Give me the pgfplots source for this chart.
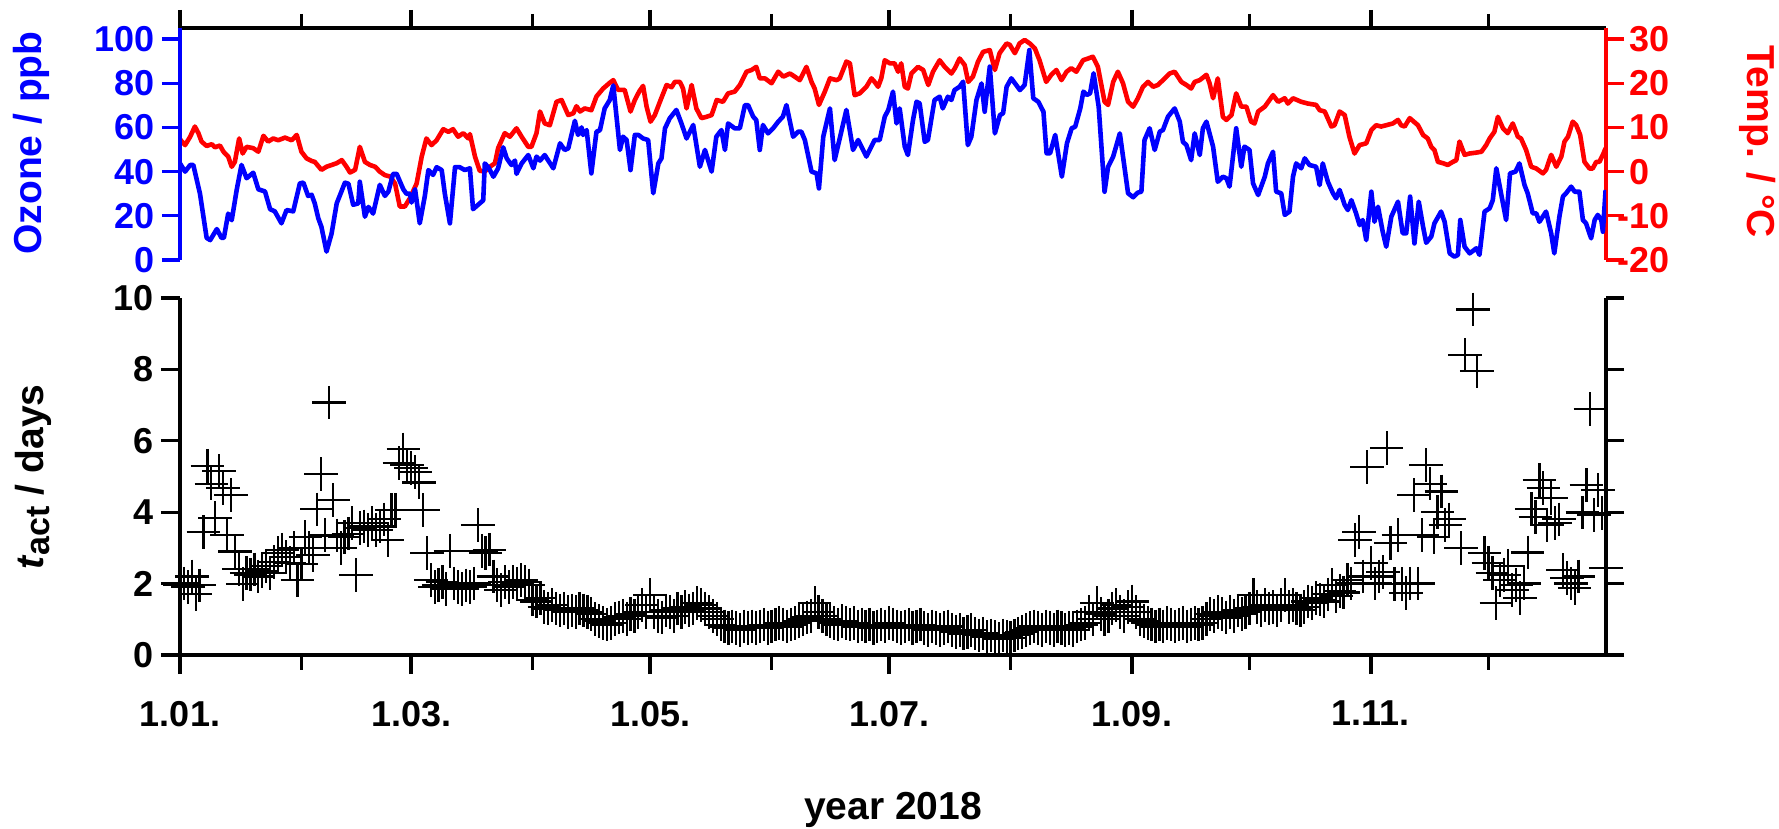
\documentclass[border=0pt]{standalone}
\usepackage{fontspec}
\setmainfont{Liberation Sans}
\usepackage{pgfplots}
\pgfplotsset{compat=1.18}
\definecolor{oblue}{RGB}{0,0,255}
\definecolor{ored}{RGB}{255,0,0}
\newcommand{\tickfont}{\fontsize{18}{21}\selectfont\bfseries}
\newcommand{\labfont}{\fontsize{19.5}{23}\selectfont\bfseries}
\pgfplotsset{
  base/.style={scale only axis, width=713pt, xmin=0, xmax=364, anchor=south west,
    /pgf/number format/assume math mode=true,
    ticklabel style={font=\tickfont},
    label style={font=\labfont},
    major tick length=9pt, minor tick length=7pt,
  },
  noarrow/.style={axis line style={line width=1.65pt,-}, x axis line style={line width=1.65pt,-}, y axis line style={line width=1.65pt,-}},
}
\begin{document}
\begin{tikzpicture}
\useasboundingbox (0,0) rectangle (889.5pt,414.5pt);
% top frame line with month ticks
\begin{axis}[base, at={(90pt,284.5pt)}, height=116pt, ymin=0, ymax=105,
  axis x line=top, axis y line=none, tick align=outside, noarrow,
  xtick={0,59,120,181,243,304}, minor xtick={31,90,151,212,273,334},
  xticklabels={}, tick style={black, line width=1.65pt}]
\end{axis}
% temperature (right axis)
\begin{axis}[base, at={(90pt,284.5pt)}, height=116pt, ymin=-20, ymax=32.5,
  axis x line=none, axis y line=right, tick align=outside, noarrow,
  ytick={-20,-10,0,10,20,30}, yticklabels={\llap{-}20,\llap{-}10,0,10,20,30},
  y axis line style={ored}, tick style={ored, line width=1.65pt},
  yticklabel style={color=ored, xshift=-1pt},
  ylabel={Temp. / °C},
  ylabel style={font=\labfont, color=ored, at={(axis description cs:1.1066,0.509)}, anchor=center, rotate=180}]
\addplot[ored, line width=2.3pt, line join=round] coordinates {
(0,7.3)(1.3,6.0)(2.6,7.9)(3.8,10.2)(4.7,8.7)(5.5,6.8)(6.8,5.8)(8.1,6.2)(8.9,5.5)(10.2,5.9)(11.1,4.5)(12.3,3.4)(13.2,1.1)(14.0,2.2)(15.1,7.5)(16.0,4.1)(17.0,5.6)(18.7,5.3)(20.0,4.5)(21.3,8.1)(22.5,6.8)(23.8,7.5)(25.1,7.1)(26.8,7.7)(28.5,7.1)(29.8,8.3)(31.0,4.5)(32.3,3.0)(33.6,2.4)(34.4,2.2)(36.1,0.4)(37.4,1.1)(38.7,1.5)(40.0,1.9)(41.3,2.6)(42.5,1.1)(43.4,-0.2)(44.7,0.4)(45.9,5.6)(47.2,2.2)(48.5,1.5)(49.8,1.1)(51.0,0)(52.3,-0.8)(53.6,-1.1)(54.9,-2.7)(56.1,-7.9)(57.4,-7.9)(58.7,-6.0)(60.4,-2.7)(61.7,3.4)(62.9,7.5)(64.2,6.0)(65.5,7.1)(67.2,9.6)(68.5,9.0)(69.7,9.6)(71.0,7.9)(72.3,8.7)(73.6,7.5)(74.0,8.5)(75.3,3.4)(76.5,0.2)(77.8,0)(79.1,1.1)(80.4,1.9)(81.2,5.3)(82.9,8.7)(84.2,7.9)(85.9,9.8)(87.2,7.9)(88.9,5.6)(89.7,5.6)(91.0,8.7)(91.9,13.6)(93.1,10.9)(94.4,10.5)(96.1,15.8)(97.4,16.2)(99.1,12.8)(100.4,13.2)(101.2,14.8)(102.1,13.6)(103.3,14.3)(105.0,13.9)(106.3,17.0)(108.0,18.8)(109.7,20.1)(110.6,20.7)(111.8,18.5)(113.5,18.5)(115.0,13.6)(116.1,16.2)(117.2,18.1)(118.2,19.4)(119.1,14.7)(120.1,11.3)(121.2,12.8)(122.5,15.8)(124.2,19.6)(125.5,19.1)(126.3,20.3)(127.6,20.3)(128.4,18.8)(129.3,14.3)(130.6,19.6)(131.8,14.3)(133.1,12.1)(134.4,12.4)(135.7,12.8)(137.0,16.2)(138.6,15.8)(139.9,17.7)(141.6,18.1)(142.9,19.6)(144.6,22.6)(145.9,23.0)(147.1,23.7)(148.0,21.1)(149.3,21.1)(151.0,20.0)(152.7,22.6)(154.0,21.5)(155.7,22.2)(156.9,21.5)(158.2,20.7)(159.9,23.7)(161.2,20.3)(162.0,18.8)(163.1,15.1)(164.6,18.1)(165.9,21.1)(167.6,20.7)(168.4,21.1)(170.1,24.9)(171.0,24.5)(172.2,17.3)(173.5,17.7)(175.2,19.2)(176.5,21.1)(177.3,20.3)(178.2,19.2)(179.0,21.1)(179.9,25.2)(181.2,24.5)(182.4,24.5)(183.3,22.6)(184.1,24.5)(185.0,19.2)(185.8,18.8)(186.7,22.2)(188.4,23.7)(189.7,23.0)(191.0,19.6)(192.2,22.6)(193.9,25.2)(195.2,23.7)(196.9,22.2)(197.8,23.4)(199.0,25.6)(200.3,24.1)(201.2,20.3)(202.4,21.5)(203.7,24.9)(205.0,27.1)(206.7,27.5)(208.0,23.0)(209.2,26.8)(211.0,29.0)(211.8,28.7)(213.1,26.8)(214.3,29.0)(215.6,29.8)(216.9,29.0)(218.2,27.9)(219.4,25.2)(221.1,20.3)(222.4,21.9)(223.7,23.0)(225.0,20.7)(226.3,22.6)(227.5,23.4)(228.8,22.6)(230.5,25.2)(231.8,25.6)(233.0,26.0)(234.3,23.7)(236.0,15.8)(236.9,15.1)(238.2,20.3)(239.4,22.6)(240.7,20.0)(242.0,15.8)(243.3,14.7)(244.5,16.6)(245.8,19.2)(247.1,20.3)(248.4,19.2)(249.6,19.6)(250.9,20.7)(252.6,22.2)(253.9,22.6)(255.6,20.3)(256.9,19.6)(258.1,18.8)(259.0,20.3)(260.3,20.7)(262.0,21.9)(262.8,20.0)(263.7,16.6)(264.9,21.1)(266.2,12.4)(267.1,11.7)(268.4,12.8)(269.6,17.7)(270.9,14.7)(272.2,14.7)(273.4,11.3)(274.3,10.9)(275.2,13.6)(276.9,14.7)(279.0,17.3)(280.3,15.8)(282.0,16.6)(282.8,15.4)(284.1,16.6)(286.2,15.8)(287.9,15.4)(290.0,15.1)(290.9,13.9)(292.2,13.6)(293.9,10.2)(294.7,10.5)(296.0,13.6)(297.3,12.8)(298.5,7.9)(299.8,4.1)(301.1,6.0)(302.8,6.4)(304.1,9.4)(305.3,10.5)(306.6,10.2)(307.9,10.5)(309.6,10.9)(310.9,11.7)(311.7,10.5)(312.6,10.2)(313.9,12.1)(316.0,10.5)(317.3,8.3)(318.5,7.5)(319.4,5.6)(320.2,4.9)(321.1,2.2)(322.4,1.9)(323.6,1.5)(324.9,2.2)(325.8,2.6)(326.6,6.8)(327.9,3.8)(329.2,4.1)(330.9,4.3)(332.2,4.5)(333.4,6.0)(334.3,7.5)(335.5,9.0)(336.4,12.4)(337.7,9.8)(338.9,8.7)(340.2,10.9)(341.5,7.9)(342.3,7.5)(343.6,4.9)(344.9,1.1)(346.2,0.7)(347.9,-0.4)(348.7,0.4)(350.0,3.8)(351.3,1.1)(352.6,3.4)(353.4,6.8)(354.3,7.9)(355.5,11.3)(356.4,10.5)(357.4,8.3)(358.5,2.2)(359.8,0.7)(360.6,0.7)(361.5,2.2)(362.3,2.2)(363.2,3.8)(363.9,5.3)
};
\end{axis}
% ozone (left axis)
\begin{axis}[base, at={(90pt,284.5pt)}, height=116pt, ymin=0, ymax=105,
  axis x line=none, axis y line=left, tick align=outside, noarrow,
  ytick={0,20,40,60,80,100},
  y axis line style={oblue}, tick style={oblue, line width=1.65pt},
  yticklabel style={color=oblue},
  ylabel={Ozone / ppb},
  ylabel style={color=oblue, at={(axis description cs:-0.1045,0.504)}, anchor=center}]
\addplot[oblue, line width=2.3pt, line join=round] coordinates {
(0,43.7)(1.3,40)(2.6,43)(3.4,43)(5.1,30)(6.8,10)(7.7,9)(9.4,14)(10.6,10)(11.2,10)(12.3,21)(13.2,18)(14.5,32)(15.7,43)(17.0,37)(18.7,39.5)(20.0,32)(21.7,31)(23.0,23)(24.2,22)(25.9,16.6)(27.2,22.6)(28.9,22)(30.6,34.7)(31.5,35)(32.7,29)(33.6,29.5)(34.4,25.6)(35.3,18.9)(36.1,15)(37.4,3.8)(38.7,12)(40.0,25.6)(42.1,35)(43.0,34.5)(44.2,25)(45.5,25.6)(45.9,35.4)(47.2,19.6)(48.1,24)(49.3,21)(51.0,34)(52.3,29)(53.2,31)(54.4,39)(55.3,39)(57.0,32)(57.8,30)(58.7,30)(59.1,26)(60.0,32)(61.2,16.6)(62.5,29)(63.4,40.7)(64.6,38.5)(65.5,42)(66.8,40.7)(67.6,30)(68.9,16.6)(70.2,42)(71.4,42)(72.7,40.7)(74.0,41.5)(74.8,23)(76.1,25)(77.4,27)(77.8,43.7)(78.7,42)(80.0,37.7)(81.2,41.5)(82.5,51)(83.4,46)(84.6,43)(85.5,45)(85.9,39)(87.2,43.7)(88.9,47.5)(90.2,41.5)(91.0,46.8)(91.9,45)(93.1,47.5)(94.0,45)(95.3,41.5)(97.0,52.8)(98.2,49.8)(99.1,50.5)(100.8,63)(101.6,56.6)(102.5,60)(102.9,56.6)(103.8,58.8)(105.0,39.2)(106.3,58)(107.2,58.8)(108.4,68.6)(109.7,72.4)(110.6,79)(112.3,49.8)(113.1,55.8)(114.0,54.3)(115.0,40.7)(116.1,56.6)(117.0,56.6)(118.2,55)(119.5,54.3)(120.8,30.2)(122.1,43.7)(122.9,46)(123.8,59.6)(125.0,64.1)(126.7,67.9)(128.0,61.8)(129.3,55)(131.0,61.1)(132.7,42.2)(134.0,49.8)(135.7,40)(136.9,55.8)(138.2,58.8)(139.1,49.8)(139.9,61.8)(141.6,59.6)(142.9,59.6)(144.2,70.1)(145.0,70.1)(146.3,64.9)(147.1,63.3)(148.0,49.8)(148.8,61.1)(150.1,57.3)(151.4,59.6)(152.7,62.6)(153.9,64.9)(154.8,70.1)(156.5,55.8)(157.8,58.1)(158.6,58.1)(159.5,54.3)(161.2,40)(162.5,39.2)(163.1,32.4)(164.2,55.8)(165.9,68.6)(167.1,45.2)(168.4,55)(170.1,67.9)(171.8,49.8)(173.1,54.3)(175.2,46.8)(177.3,54.3)(178.6,54.3)(179.9,64.9)(180.8,67.9)(182.0,76.2)(182.9,61.8)(183.7,68.6)(185.0,51.3)(185.8,47.5)(187.1,63.3)(188.0,71.6)(188.8,70.9)(190.1,53.5)(190.9,54.3)(192.6,72.4)(193.9,73.9)(194.7,68.6)(196.0,73.9)(196.9,72.4)(197.7,76.9)(199.0,78.4)(199.9,80.7)(201.1,52)(202.0,55.8)(203.3,72.4)(204.6,79.9)(205.4,67.1)(206.7,87.5)(208.0,57.3)(209.3,65.6)(210.1,66.4)(211.0,78.4)(212.2,82.2)(214.4,76.9)(215.6,79.2)(216.8,95)(217.8,73.2)(219.1,71.6)(220.4,67.1)(221.2,48.3)(222.1,48.3)(223.4,56.6)(225.1,37.7)(226.4,52.8)(227.6,59.6)(228.5,60.3)(229.8,68.6)(230.6,76.2)(231.5,74.7)(232.3,75.4)(233.2,84.5)(234.5,69.4)(236.0,30.9)(236.9,42.2)(238.2,46.8)(239.9,57.3)(242.0,30.2)(243.3,28.4)(244.5,30.5)(245.4,30.9)(246.2,54.3)(247.5,59.6)(248.8,49.8)(250.1,58.1)(250.9,58.8)(252.2,64.9)(253.9,68.6)(255.2,62.6)(256.0,53.5)(256.9,52)(258.1,45.2)(259.0,57.3)(260.3,47.5)(261.1,59.6)(262.0,62.6)(263.7,51.3)(264.9,35.4)(266.2,37.7)(267.1,37)(267.9,33.2)(269.6,59.6)(270.9,42.2)(271.7,51.3)(273.0,49.8)(273.9,34.7)(275.2,29.4)(276.9,37.7)(277.7,43.7)(279.0,49)(279.8,30.9)(281.1,30.2)(282.0,20.4)(283.2,21.9)(284.1,37.7)(284.9,43.7)(286.2,41.5)(287.1,46)(288.3,43)(290.0,42.2)(290.9,33.9)(291.7,43.7)(293.0,35.4)(294.3,30.2)(295.1,27.9)(296.0,31.7)(297.3,24.9)(298.1,22.6)(299.0,27.1)(300.2,21.1)(301.1,15.8)(301.9,18.1)(302.8,9)(304.1,30.9)(304.9,17.3)(305.8,24.1)(307.0,12.8)(307.9,6)(309.2,19.6)(310.9,26.4)(312.1,12.1)(313.0,12.1)(314.0,28.7)(315.1,7.5)(316.2,26.4)(317.3,15.1)(318.1,7.8)(319.4,10.6)(320.2,16.6)(321.9,21.9)(322.8,17.3)(324.1,3)(325.3,1.5)(326.2,2.3)(326.8,18.1)(327.9,6)(329.2,3)(330.9,5.3)(331.7,2.3)(333.0,21.9)(334.3,23.4)(335.1,27.1)(336.0,41.5)(337.2,30.2)(338.5,18.1)(339.5,39.2)(340.9,40)(341.9,43.7)(343.2,33.9)(344.0,30.2)(345.3,21.1)(346.2,21.1)(347.0,17.3)(348.7,21.9)(350.0,12.1)(350.8,3)(352.1,19.6)(353.0,28.7)(353.8,30.2)(355.1,33.2)(356.0,30.9)(357.2,30.9)(358.1,18.1)(358.9,16.6)(360.2,9.8)(361.1,18.1)(361.9,20.4)(362.8,18.1)(363.2,12.8)(363.9,31.7)
};
\end{axis}
% bottom panel: right spine
\begin{axis}[base, at={(90pt,87pt)}, height=178.5pt, ymin=0, ymax=10,
  axis x line=none, axis y line=right, tick align=outside, noarrow,
  ytick={0,2,4,6,8,10}, yticklabels={}, tick style={black, line width=1.65pt}]
\end{axis}
% bottom panel: t_act
\begin{axis}[base, at={(90pt,87pt)}, height=178.5pt, ymin=0, ymax=10,
  axis x line=bottom, axis y line=left, tick align=outside, clip=false, noarrow,
  major tick length=9.5pt, minor tick length=7.5pt,
  xtick={0,59,120,181,243,304}, minor xtick={31,90,151,212,273,334},
  xticklabels={1.01.,1.03.,1.05.,1.07.,1.09.,1.11.},
  xticklabel style={yshift=-10pt},
  ytick={0,2,4,6,8,10}, tick style={black, line width=1.65pt},
  xlabel={year 2018},
  xlabel style={at={(axis description cs:0.5,-0.434)}, anchor=center},
  ylabel={\textit{t}\raisebox{-0.3ex}{\fontsize{17}{20}\selectfont act} / days},
  ylabel style={at={(axis description cs:-0.1031,0.4986)}, anchor=center}]
\addplot[only marks, mark=+, mark size=8.4pt, mark options={line width=1.1pt, black}] coordinates {
(0,1.95)(1,2.0)(2,1.9)(3,2.2)(4,1.7)(5,1.95)(6,3.44)(7,5.3)(8,4.8)(9,3.83)(10,5.15)(11,4.67)(12,3.36)(13,4.48)(14,2.9)
(15,2.4)(16,1.99)(17,2.3)(18,2.25)(19,2.4)(20,2.2)(21,2.35)(22,2.5)(23,2.3)(24,2.6)(25,2.85)(26,2.95)(27,2.75)(28,2.57)(29,3.0)
(30,2.1)(31,2.55)(32,3.3)(33,3.0)(34,2.8)(35,4.08)(36,5.07)(37,3.36)(38,7.07)(39,4.34)(40,3.35)(41,3.0)(42,3.3)(43,3.4)(44,3.7)
(45,2.24)(46,3.55)(47,3.6)(48,3.5)(49,3.7)(50,3.5)(51,3.6)(52,3.8)(53,3.22)(54,4.06)(55,4.06)(56,5.37)(57,5.76)(58,5.32)(59,5.23)
(60,5.12)(61,4.83)(62,4.06)(63,2.85)(64,2.1)(65,1.91)(66,1.96)(67,2.05)(68,1.85)(69,2.92)(70,2.0)(71,1.9)(72,1.85)(73,1.95)(74,1.9)
(75,2.0)(76,3.64)(77,2.92)(78,2.85)(79,2.95)(80,2.2)(81,1.96)(82,1.82)(83,2.05)(84,1.9)(85,2.05)(86,2.0)(87,2.1)(88,2.05)(89,1.95)
(90,1.55)(91,1.5)(92,1.6)(93,1.35)(94,1.3)(95,1.4)(96,1.3)(97,1.25)(98,1.3)(99,1.2)(100,1.25)(101,1.2)(102,1.3)(103,1.25)(104,1.2)
(105,1.15)(106,1.0)(107,0.95)(108,0.9)(109,0.85)(110,0.9)(111,1.0)(112,1.05)(113,1.1)(114,1.0)(115,1.15)(116,1.1)(117,1.2)(118,1.4)(119,1.2)
(120,1.68)(121,1.2)(122,1.1)(123,1.05)(124,1.25)(125,1.2)(126,1.1)(127,1.3)(128,1.2)(129,1.35)(130,1.25)(131,1.3)(132,1.45)(133,1.4)(134,1.3)
(135,1.2)(136,1.1)(137,1.0)(138,0.85)(139,0.8)(140,0.75)(141,0.8)(142,0.75)(143,0.7)(144,0.8)(145,0.75)(146,0.8)(147,0.75)(148,0.8)(149,0.85)
(150,0.75)(151,0.8)(152,0.85)(153,0.9)(154,0.85)(155,0.8)(156,0.85)(157,0.9)(158,0.95)(159,1.0)(160,1.05)(161,1.1)(162,1.45)(163,1.2)(164,1.1)
(165,1.0)(166,0.95)(167,0.9)(168,0.85)(169,0.95)(170,0.9)(171,0.85)(172,0.9)(173,0.8)(174,0.85)(175,0.8)(176,0.85)(177,0.75)(178,0.8)(179,0.85)
(180,0.8)(181,0.9)(182,0.85)(183,0.8)(184,0.75)(185,0.8)(186,0.85)(187,0.75)(188,0.8)(189,0.85)(190,0.75)(191,0.7)(192,0.8)(193,0.75)(194,0.7)
(195,0.75)(196,0.8)(197,0.7)(198,0.65)(199,0.7)(200,0.6)(201,0.65)(202,0.7)(203,0.6)(204,0.55)(205,0.6)(206,0.5)(207,0.55)(208,0.5)(209,0.45)
(210,0.55)(211,0.5)(212,0.47)(213,0.55)(214,0.6)(215,0.65)(216,0.7)(217,0.75)(218,0.8)(219,0.75)(220,0.7)(221,0.8)(222,0.75)(223,0.7)(224,0.8)
(225,0.75)(226,0.7)(227,0.75)(228,0.7)(229,0.8)(230,0.85)(231,0.9)(232,1.2)(233,1.0)(234,1.45)(235,1.15)(236,1.0)(237,1.1)(238,1.3)(239,1.4)
(240,1.2)(241,1.1)(242,1.35)(243,1.5)(244,1.2)(245,1.0)(246,0.95)(247,0.9)(248,0.85)(249,0.8)(250,0.85)(251,0.8)(252,0.9)(253,0.85)(254,0.8)
(255,0.85)(256,0.9)(257,0.8)(258,0.85)(259,0.9)(260,0.85)(261,0.9)(262,1.0)(263,1.15)(264,1.1)(265,1.2)(266,1.15)(267,1.05)(268,1.2)(269,1.1)
(270,1.25)(271,1.15)(272,1.2)(273,1.3)(274,1.68)(275,1.35)(276,1.25)(277,1.4)(278,1.3)(279,1.35)(280,1.25)(281,1.4)(282,1.68)(283,1.35)(284,1.4)
(285,1.3)(286,1.25)(287,1.35)(288,1.5)(289,1.45)(290,1.6)(291,1.55)(292,1.5)(293,1.7)(294,1.96)(295,1.65)(296,1.8)(297,1.75)(298,2.1)(299,2.0)
(300,3.22)(301,3.45)(302,2.2)(303,5.26)(304,2.57)(305,2.0)(306,2.2)(307,2.33)(308,5.79)(309,3.13)(310,1.99)(311,3.36)(312,1.99)(313,1.73)(314,2.0)
(315,4.48)(316,2.0)(317,3.36)(318,5.32)(319,4.8)(320,3.3)(321,4.0)(322,4.58)(323,3.64)(324,3.8)
(327,2.99)(328,8.4)(330,9.68)(331,7.96)(333,2.85)(334,2.57)(335,2.3)(336,1.45)(337,2.1)(338,2.24)(339,2.5)
(340,1.82)(341,1.96)(342,1.59)(343,2.0)(344,2.87)(345,4.1)(346,3.86)(347,4.9)(348,4.67)(349,3.64)(350,4.4)(351,3.69)(352,3.8)(353,2.38)(354,2.15)
(355,2.0)(356,1.87)(357,2.2)(358,3.99)(359,4.76)(360,6.89)(361,3.92)(362,4.62)(363,3.97)(364,2.43)
};
\end{axis}
\end{tikzpicture}
\end{document}
